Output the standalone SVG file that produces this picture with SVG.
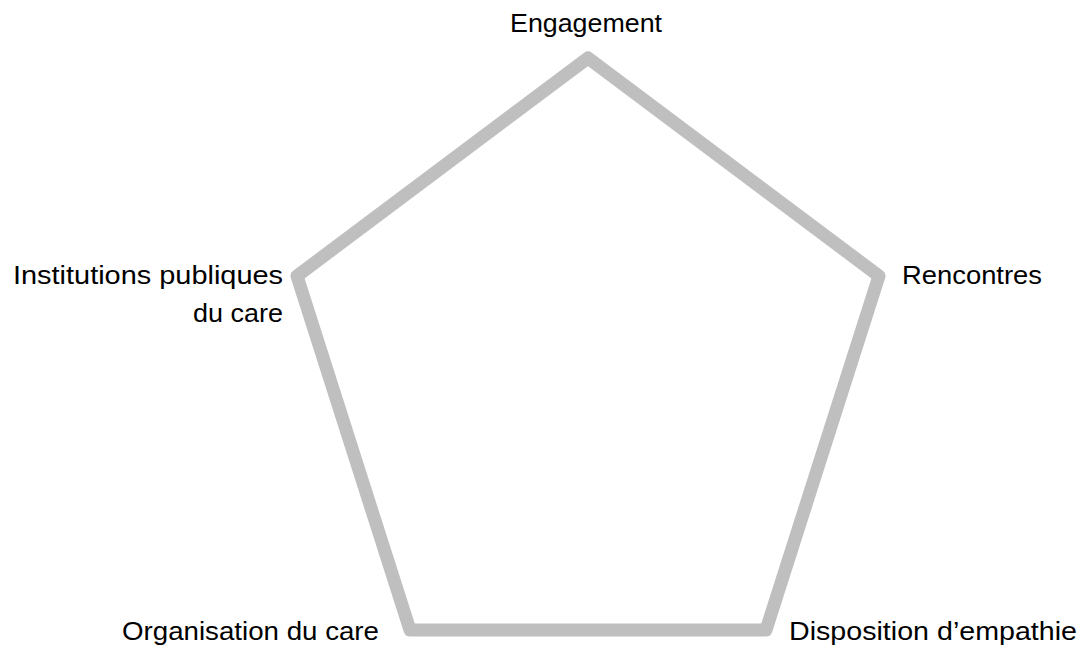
<svg xmlns="http://www.w3.org/2000/svg" width="1083" height="653" viewBox="0 0 1083 653">
<style>
.lbl{font-family:"Liberation Sans","Open Sans",Arial,sans-serif;font-size:26px;fill:#000}
.edge{fill:none;stroke:#BFBFBF;stroke-width:13;stroke-linejoin:round;stroke-linecap:round}
</style>
<rect width="1083" height="653" fill="#fff"/>
<g id="connectors">
<polygon class="edge" points="588,58 879,276 766,630 410,630 297,276"/>
</g>
<g id="node-engagement"><text class="lbl" x="510" y="32" textLength="152" lengthAdjust="spacingAndGlyphs">Engagement</text></g>
<g id="node-rencontres"><text class="lbl" x="902" y="284" textLength="140" lengthAdjust="spacingAndGlyphs">Rencontres</text></g>
<g id="node-disposition"><text class="lbl" x="789" y="640" textLength="288" lengthAdjust="spacingAndGlyphs">Disposition d’empathie</text></g>
<g id="node-organisation"><text class="lbl" x="122" y="640" textLength="257" lengthAdjust="spacingAndGlyphs">Organisation du care</text></g>
<g id="node-institutions">
<text class="lbl" x="13" y="284" textLength="270" lengthAdjust="spacingAndGlyphs">Institutions publiques</text>
<text class="lbl" x="193" y="322" textLength="90" lengthAdjust="spacingAndGlyphs">du care</text>
</g>
</svg>
